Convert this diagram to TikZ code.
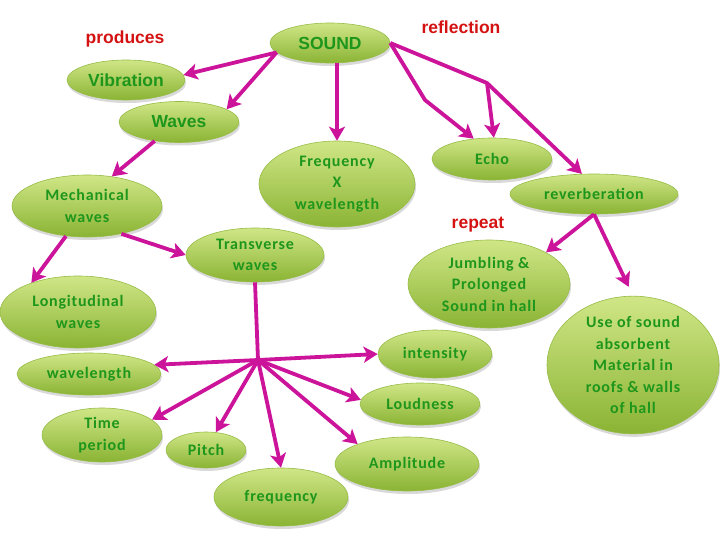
\documentclass[tikz,border=0pt]{standalone}
\usepackage{fontspec}
\newfontfamily\arialb{Liberation Sans}
\newfontfamily\calib{Carlito}[LetterSpace=5]
\usetikzlibrary{shapes.geometric,arrows.meta,shadows}
\definecolor{bubtop}{RGB}{208,230,135}
\definecolor{bubbot}{RGB}{138,180,52}
\definecolor{bubedge}{RGB}{150,188,70}
\definecolor{txtgreen}{RGB}{30,150,28}
\definecolor{txtred}{RGB}{212,18,18}
\definecolor{arrowc}{RGB}{204,20,155}
\tikzset{
  bub/.style={ellipse, inner sep=0pt, top color=bubtop, bottom color=bubbot,
    draw=bubedge, line width=0.6pt, text=txtgreen, align=center,
    drop shadow={opacity=0.25, shadow xshift=1pt, shadow yshift=-3pt, fill=black!60}},
  bsize/.style 2 args={minimum width=#1pt, minimum height=#2pt},
  cfont/.style={font=\calib\bfseries\fontsize{16}{21.5}\selectfont},
  afont/.style={font=\arialb\bfseries\fontsize{17.5}{20}\selectfont},
  redlbl/.style={afont, text=txtred, inner sep=0pt},
  conn/.style={draw=arrowc, line width=3.8pt, line join=round,
    -{Stealth[length=14pt,width=16pt,inset=3.5pt]}},
  plainconn/.style={draw=arrowc, line width=3.8pt, line join=round}
}
\begin{document}
\begin{tikzpicture}[x=1pt,y=-1pt]
\useasboundingbox (0,0) rectangle (720,540);
% nodes
\node[bub, afont, bsize={120}{40}] (sound) at (330,43) {SOUND};
\node[bub, afont, bsize={118}{40}] (vib) at (126,80) {Vibration};
\node[bub, afont, bsize={120}{41}] (waves) at (179,122) {Waves};
\node[bub, cfont, bsize={156}{86}] (freq) at (337,184) {Frequency\\X\\wavelength};
\node[bub, cfont, bsize={120}{42}] (echo) at (492,159) {Echo};
\node[bub, cfont, bsize={168}{40}] (reverb) at (594,194) {reverberation};
\node[bub, cfont, bsize={150}{62}] (mech) at (87,206) {Mechanical\\waves};
\node[bub, cfont, bsize={138}{54}] (trans) at (255,255) {Transverse\\waves};
\node[bub, cfont, bsize={156}{72}] (longi) at (78,312) {Longitudinal\\waves};
\node[bub, cfont, bsize={162}{88}] (jumb) at (489,284) {Jumbling \&\\Prolonged\\Sound in hall};
\node[bub, cfont, bsize={172}{120}] (use) at (633,365) {Use of sound\\absorbent\\Material in\\roofs \& walls\\of hall};
\node[bub, cfont, bsize={114}{48}] (inten) at (435,354) {intensity};
\node[bub, cfont, bsize={144}{42}] (wavel) at (89,374) {wavelength};
\node[bub, cfont, bsize={120}{42}] (loud) at (420,404) {Loudness};
\node[bub, cfont, bsize={120}{54}] (time) at (102,435) {Time\\period};
\node[bub, cfont, bsize={80}{36}] (pitch) at (206,450) {Pitch};
\node[bub, cfont, bsize={144}{54}] (ampl) at (407,464) {Amplitude};
\node[bub, cfont, bsize={134}{58}] (freqb) at (281,497) {frequency};
% red labels
\node[redlbl] (lprod) at (125,39) {produces};
\node[redlbl] (lrefl) at (461,27) {reflection};
\node[redlbl] (lrep) at (478,225) {repeat};
% bend points
\coordinate (hub) at (258,360);
\coordinate (bA) at (425,100);
\coordinate (bB) at (487,83);
% connectors
\draw[conn] (sound.190) -- (vib.5);
\draw[conn] (sound.190) -- (waves.15);
\draw[conn] (sound.south -| freq.north) -- (freq.north);
\draw[conn] (sound.east) -- (bA) -- (echo.132);
\draw[conn] (sound.east) -- (bB) -- (echo.85);
\draw[conn] (bB) -- (reverb.121);
\draw[conn] (waves.218) -- (mech.50);
\draw[conn] (mech.235) -- (longi.148);
\draw[conn] (mech.321) -- (trans.west);
\draw[plainconn] (trans.south) -- (hub);
\draw[conn] (hub) -- (inten.west);
\draw[conn] (hub) -- (wavel.8);
\draw[conn] (hub) -- (time.17);
\draw[conn] (hub) -- (pitch.61);
\draw[conn] (hub) -- (freqb.north);
\draw[conn] (hub) -- (loud.176);
\draw[conn] (hub) -- (ampl.158);
\draw[conn] (reverb.south) -- (jumb.29);
\draw[conn, shorten >=10pt] (reverb.south) -- (use.north);
\end{tikzpicture}
\end{document}
